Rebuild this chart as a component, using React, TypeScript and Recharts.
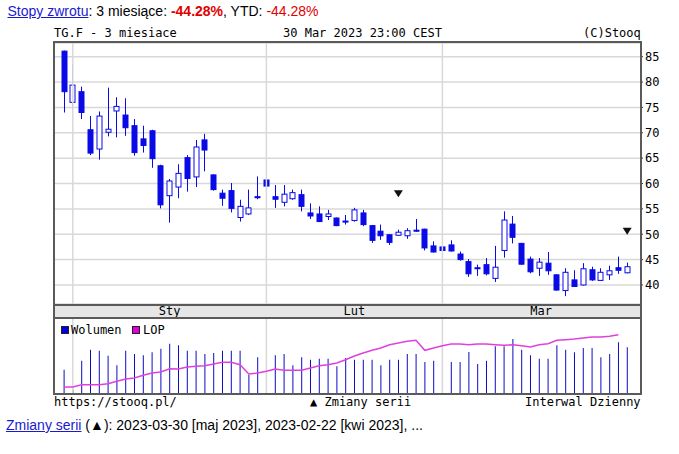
import React from "react";
import {
  ComposedChart,
  Bar,
  Line,
  Scatter,
  XAxis,
  YAxis,
  CartesianGrid,
  ReferenceLine,
} from "recharts";

// daily sessions, 30 Dec 2022 .. 30 Mar 2023
const opens = [
  86.1, 76.0, 78.1, 70.6, 66.8, 70.1, 74.3, 73.5, 71.4, 68.8,
  70.4, 63.5, 57.6, 59.3, 65.1, 61.3, 68.6, 61.7, 58.1, 58.6,
  53.3, 54.0, 57.4, 60.7, 57.4, 56.3, 57.0, 57.8, 54.2, 54.0,
  53.5, 53.2, 52.6, 52.7, 54.2, 51.7, 50.6, 49.9, 49.8, 49.7,
  50.8, 51.0, 47.7, 47.5, 47.9, 46.1, 44.6, 43.4, 44.0, 41.3,
  46.8, 52.0, 48.2, 45.1, 43.3, 44.3, 42.0, 38.9, 41.0, 40.0,
  43.0, 40.9, 42.0, 43.4, 42.4,
];
const highs = [
  86.2, 83.4, 79.1, 73.3, 74.2, 78.9, 77.0, 76.8, 72.7, 71.4,
  70.6, 63.7, 60.9, 63.8, 65.6, 68.6, 69.8, 61.8, 58.8, 60.1,
  56.8, 58.8, 61.4, 60.8, 59.7, 59.7, 58.8, 58.8, 56.1, 55.5,
  54.8, 53.3, 53.8, 55.2, 54.8, 51.8, 51.9, 50.0, 50.9, 51.2,
  53.0, 51.1, 48.6, 48.4, 48.8, 46.6, 45.1, 44.0, 45.3, 47.7,
  54.5, 53.6, 48.3, 45.6, 45.3, 46.5, 42.1, 43.3, 42.9, 44.3,
  43.6, 43.3, 43.8, 45.6, 44.4,
];
const lows = [
  74.0, 74.7, 72.7, 65.6, 64.7, 69.3, 69.1, 69.4, 65.5, 66.1,
  63.1, 55.1, 52.3, 57.1, 58.4, 59.3, 62.4, 58.6, 55.6, 54.3,
  52.5, 53.8, 56.9, 55.2, 55.2, 55.5, 56.8, 54.5, 53.0, 52.4,
  52.8, 51.6, 51.9, 52.5, 51.6, 48.3, 48.9, 47.9, 49.7, 49.1,
  50.5, 46.8, 46.4, 46.7, 46.6, 44.8, 41.6, 41.8, 41.9, 40.6,
  45.4, 48.2, 44.0, 42.3, 41.8, 42.0, 38.9, 37.8, 39.6, 39.9,
  40.8, 40.8, 41.0, 42.2, 42.3,
];
const closes = [
  78.1, 79.4, 74.0, 66.0, 73.3, 70.7, 75.2, 71.0, 66.1, 67.5,
  64.9, 55.8, 60.5, 62.0, 61.0, 67.2, 66.6, 58.8, 57.1, 55.1,
  55.5, 55.2, 57.2, 59.5, 56.9, 57.9, 58.2, 55.5, 53.6, 52.5,
  54.0, 51.7, 52.4, 54.8, 51.9, 48.8, 49.7, 48.4, 50.4, 50.7,
  50.6, 47.3, 46.5, 46.8, 46.7, 45.0, 42.2, 43.3, 42.2, 43.5,
  52.8, 49.4, 44.1, 42.6, 44.5, 42.8, 39.0, 42.5, 39.7, 43.2,
  41.0, 42.5, 42.8, 42.9, 43.6,
];
const volumes = [
  23.3, 3.3, 32.3, 43.3, 42.3, 37.3, 27.7, 42.3, 39, 37.7,
  40.7, 44.3, 49.3, 47.7, 42.3, 42.3, 39, 40, 42.3, 42.3,
  42.3, 18.3, 35.7, 37.3, 37.7, 39, 27.7, 35.7, 33.3, 34.3,
  34.3, 26.7, 35, 33.3, 33.3, 33.3, 27.7, 33.3, 33.3, 39,
  39, 31, 32.3, 35.7, 31, 31, 41, 29, 32.3, 46.7,
  46.7, 54, 43.3, 37.7, 34.3, 34.3, 47.7, 43.3, 40.7, 45,
  45, 35.7, 39, 50.7, 45.7,
];
const openInterest = [
  6, 6, 8.3, 8.3, 8.3, 9.3, 11.7, 14, 15, 17.7,
  20, 21, 24.3, 24, 26, 26.7, 27.3, 29, 30.7, 30.7,
  28.3, 19, 20, 21.7, 24, 22.7, 22.7, 22.7, 25, 27.3,
  28.3, 30, 33.3, 37, 40, 42.7, 45, 48.3, 50, 51.7,
  52.7, 42.7, 45, 47.3, 49, 49, 48.3, 49, 49, 48.3,
  47.7, 48.3, 47.3, 46, 48.3, 49.3, 52.7, 53.3, 54, 55,
  56, 56, 56.7, 58.3, null,
];

const monthNames = ["Sty", "Lut", "Mar"];
const monthStarts = [1, 23, 43];
const priceTicks = [40, 45, 50, 55, 60, 65, 70, 75, 80, 85];

// contract roll markers (session index, price level of the marker)
const rollIdx = [38, 64];
const rollLevel = [58.0, 50.6];

const X_DOMAIN: [number, number] = [-1.023, 65.457];
const P_DOMAIN: [number, number] = [36.25, 87.7];
const V_DOMAIN: [number, number] = [0, 74];

const rows = opens.map((o, i) => ({
  i,
  o,
  h: highs[i],
  l: lows[i],
  c: closes[i],
  v: volumes[i],
  lop: openInterest[i],
}));
const rollRows = rollIdx.map((i, k) => ({ i, p: rollLevel[k] }));
const monthMids = monthStarts.map((s, k) =>
  k + 1 < monthStarts.length ? (s + monthStarts[k + 1]) / 2 : (s + X_DOMAIN[1]) / 2
);

const MONO = '"DejaVu Sans Mono", monospace';
const SANS = '"Liberation Sans", Arial, sans-serif';
const BLUE = "#0a0ae6";
const GRID = "#d8d8d8";
const FRAME = "#5a5a5a";

function Candle(props: any) {
  const { x, y, width, height, payload } = props;
  if (x == null || y == null) return null;
  const { o, c, h, l } = payload;
  const span = h - l || 1;
  const toPx = (v: number) => y + ((h - v) / span) * height;
  const cx = Math.round(x + width / 2) + 0.5;
  const top = toPx(Math.max(o, c));
  const bot = toPx(Math.min(o, c));
  const up = c > o;
  return (
    <g>
      <line x1={cx} x2={cx} y1={y} y2={y + height} stroke={BLUE} strokeWidth={1} />
      <rect
        x={cx - 2.5}
        y={top}
        width={5}
        height={Math.max(bot - top, 1)}
        fill={up ? "#ffffff" : BLUE}
        stroke={BLUE}
        strokeWidth={1}
      />
    </g>
  );
}

function RollMark(props: any) {
  const { cx, cy } = props;
  if (cx == null) return null;
  return <path d={`M${cx - 4.5},${cy - 3.5} L${cx + 4.5},${cy - 3.5} L${cx},${cy + 3.5} Z`} fill="#111" />;
}

const txt = (left: number, top: number, s: React.ReactNode, extra: React.CSSProperties = {}) => (
  <div
    style={{
      position: "absolute",
      left,
      top,
      font: `12px ${MONO}`,
      lineHeight: "14px",
      whiteSpace: "pre",
      color: "#000",
      ...extra,
    }}
  >
    {s}
  </div>
);

export default function App() {
  return (
    <div style={{ position: "absolute", left: 0, top: 0, width: 679, height: 454, background: "#fff" }}>
      {/* page line above the chart */}
      <div style={{ position: "absolute", left: 7.5, top: 3, font: `14px ${SANS}`, lineHeight: "16px", whiteSpace: "pre" }}>
        <span style={{ color: "#1a1ad0", textDecoration: "underline" }}>Stopy zwrotu</span>
        <span>: 3 miesiące: </span>
        <span style={{ color: "#e00000", fontWeight: "bold" }}>-44.28%</span>
        <span>, YTD: </span>
        <span style={{ color: "#e00000" }}>-44.28%</span>
      </div>

      {txt(54, 26, "TG.F - 3 miesiace")}
      {txt(283, 26, "30 Mar 2023 23:00 CEST")}
      {txt(583, 26, "(C)Stooq")}

      {/* month strip background */}
      <div
        style={{
          position: "absolute",
          left: 53,
          top: 304,
          width: 589,
          height: 15,
          boxSizing: "border-box",
          background: "#e6e6e6",
          border: `2px solid ${FRAME}`,
        }}
      />

      {/* price panel */}
      <div style={{ position: "absolute", left: 55, top: 43 }}>
        <ComposedChart width={624} height={276} data={rows} margin={{ top: 0, right: 0, bottom: 0, left: 0 }}>
          <CartesianGrid yAxisId="p" vertical={false} stroke={GRID} strokeWidth={1.5} />
          <XAxis
            dataKey="i"
            type="number"
            domain={X_DOMAIN}
            allowDataOverflow
            ticks={monthMids}
            interval={0}
            height={15}
            tickLine={false}
            axisLine={false}
            tickSize={0}
            tickMargin={2}
            tickFormatter={(v: number) => monthNames[monthMids.indexOf(v)] ?? ""}
            tick={{ fill: "#000", fontSize: 12, fontFamily: MONO }}
          />
          <XAxis
            xAxisId="top"
            dataKey="i"
            type="number"
            orientation="top"
            mirror
            height={0}
            domain={X_DOMAIN}
            allowDataOverflow
            ticks={monthStarts}
            interval={0}
            axisLine={false}
            tickSize={5}
            tickLine={{ stroke: FRAME }}
            tickFormatter={() => ""}
          />
          <XAxis
            xAxisId="bot"
            dataKey="i"
            type="number"
            orientation="bottom"
            mirror
            height={0}
            domain={X_DOMAIN}
            allowDataOverflow
            ticks={monthStarts}
            interval={0}
            axisLine={false}
            tickSize={4}
            tickLine={{ stroke: FRAME }}
            tickFormatter={() => ""}
          />
          <YAxis
            yAxisId="p"
            orientation="right"
            width={39}
            domain={P_DOMAIN}
            allowDataOverflow
            ticks={priceTicks}
            interval={0}
            axisLine={false}
            tickSize={3}
            tickMargin={2}
            tickLine={{ stroke: "#333" }}
            tick={{ fill: "#000", fontSize: 12, fontFamily: MONO }}
          />
          <YAxis
            yAxisId="l"
            orientation="left"
            mirror
            width={0}
            domain={P_DOMAIN}
            allowDataOverflow
            ticks={priceTicks}
            interval={0}
            axisLine={false}
            tickSize={3}
            tickLine={{ stroke: FRAME }}
            tickFormatter={() => ""}
          />
          {monthStarts.map((s) => (
            <ReferenceLine key={s} x={s} yAxisId="p" stroke={GRID} strokeWidth={1.5} />
          ))}
          <Bar
            yAxisId="p"
            dataKey={(d: any) => [d.l, d.h]}
            barSize={6}
            shape={Candle}
            isAnimationActive={false}
          />
          <Scatter yAxisId="p" data={rollRows} dataKey="p" shape={RollMark} isAnimationActive={false} />
        </ComposedChart>
      </div>

      {/* price panel frame */}
      <div
        style={{
          position: "absolute",
          left: 53,
          top: 41,
          width: 589,
          height: 265,
          boxSizing: "border-box",
          border: `2px solid ${FRAME}`,
        }}
      />

      {/* volume panel */}
      <div style={{ position: "absolute", left: 55, top: 319 }}>
        <ComposedChart width={585} height={74} data={rows} margin={{ top: 0, right: 0, bottom: 0, left: 0 }}>
          <XAxis dataKey="i" type="number" domain={X_DOMAIN} allowDataOverflow hide />
          <YAxis domain={V_DOMAIN} allowDataOverflow hide />
          {monthStarts.map((s) => (
            <ReferenceLine key={s} x={s} stroke={GRID} strokeWidth={1.5} />
          ))}
          <Bar dataKey="v" barSize={1} fill="#0c0cc4" isAnimationActive={false} />
          <Line
            dataKey="lop"
            type="linear"
            stroke="#e040e0"
            strokeWidth={1.5}
            dot={false}
            isAnimationActive={false}
          />
        </ComposedChart>
      </div>
      <div
        style={{
          position: "absolute",
          left: 53,
          top: 317,
          width: 589,
          height: 78,
          boxSizing: "border-box",
          border: `2px solid ${FRAME}`,
        }}
      />

      {/* legend */}
      <div style={{ position: "absolute", left: 60.5, top: 326, width: 6, height: 6, background: "#0000dd", border: "1px solid #222" }} />
      {txt(71, 323, "Wolumen")}
      <div style={{ position: "absolute", left: 131.5, top: 326, width: 6, height: 6, background: "#dd00dd", border: "1px solid #222" }} />
      {txt(143, 323, "LOP")}

      {txt(54, 395, "https://stooq.pl/")}
      {txt(310, 395, "▲ Zmiany serii")}
      {txt(525, 395, "Interwal Dzienny")}

      <div style={{ position: "absolute", left: 6, top: 417, font: `14px ${SANS}`, lineHeight: "16px", whiteSpace: "pre" }}>
        <span style={{ color: "#1a1ad0", textDecoration: "underline" }}>Zmiany serii</span>
        <span> (▲): 2023-03-30 [maj 2023], 2023-02-22 [kwi 2023], ...</span>
      </div>
    </div>
  );
}
